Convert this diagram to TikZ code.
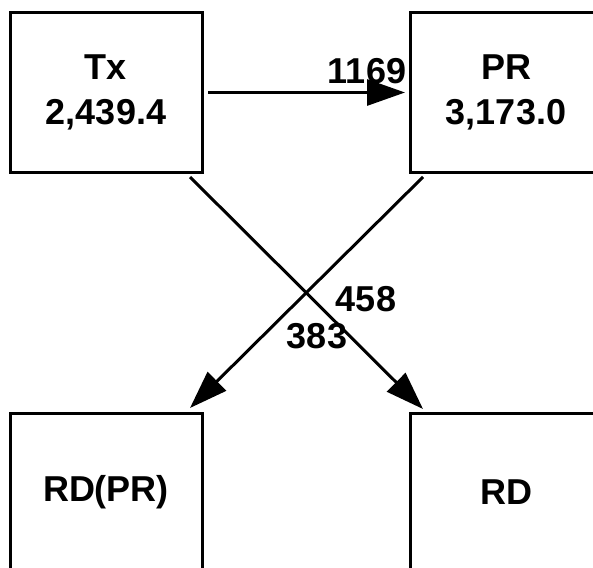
\documentclass[tikz,border=0pt]{standalone}
\usepackage{fontspec}
\setmainfont{Liberation Sans}
\usetikzlibrary{arrows.meta}
\begin{document}
\begin{tikzpicture}[x=1pt,y=1pt,
  box/.style={draw, line width=3pt, outer sep=0pt, minimum width=192pt,
    minimum height=159pt, align=center, inner sep=0pt,
    font=\bfseries\fontsize{36}{45}\selectfont},
  flow/.style={line width=3pt, -{Triangle[length=38pt,width=26pt]}},
  val/.style={font=\bfseries\fontsize{36}{42}\selectfont, inner sep=0pt}]
  \useasboundingbox (0,0) rectangle (593,-567);
  % stocks
  \node[box] (Tx)   at (106,-92.5)  {Tx\\2,439.4};
  \node[box] (PR)   at (506,-92.5)  {PR\\3,173.0};
  \node[box] (RDPR) at (106,-492.5) {RD(PR)};
  \node[box] (RD)   at (506,-492.5) {RD};
  % flow end points
  \coordinate (a1) at ([shift={(-12pt,-5pt)}]Tx.south east);
  \coordinate (a2) at ([shift={(13pt,4pt)}]RD.north west);
  \coordinate (b1) at ([shift={(13pt,-5pt)}]PR.south west);
  \coordinate (b2) at ([shift={(-12pt,5pt)}]RDPR.north east);
  % flows
  \draw[flow, shorten <=6pt, shorten >=5pt] (Tx.east) -- (PR.west);
  \draw[flow] (a1) -- (a2);
  \draw[flow] (b1) -- (b2);
  % flow values
  \node[val] (v1) at (367,-71)  {1169};
  \node[val] (v2) at (366,-299) {458};
  \node[val] (v3) at (317,-336) {383};
\end{tikzpicture}
\end{document}
